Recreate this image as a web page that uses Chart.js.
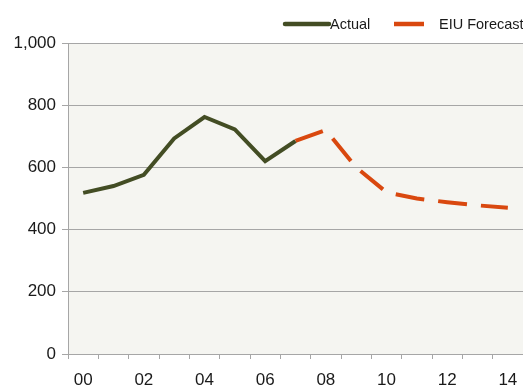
<!DOCTYPE html>
<html>
<head>
<meta charset="utf-8">
<script src="https://cdn.jsdelivr.net/npm/chart.js@4"></script>
<style>
  html, body { margin: 0; padding: 0; background: #ffffff; }
  #wrap { width: 523px; height: 389px; }
</style>
</head>
<body>
<div id="wrap"><canvas id="eiuChart"></canvas></div>
<script>
// years shown as two-digit labels
const years = ['00', '01', '02', '03', '04', '05', '06', '07', '08', '09', '10', '11', '12', '13', '14'];
const actual = [518, 540, 576, 693, 762, 722, 620, 685, null, null, null, null, null, null, null];
const forecast = [null, null, null, null, null, null, null, 685, 720, 600, 520, 500, 488, 478, 470];
const yTicks = [0, 200, 400, 600, 800, 1000];

const olive = '#434d24';
const orange = '#d9480f';

// shaded plot area
const plotBg = {
    id: 'plotBg',
    beforeDraw(chart) {
        const { ctx, chartArea: a } = chart;
        ctx.save();
        ctx.fillStyle = '#f5f5f1';
        ctx.fillRect(a.left, a.top, a.right - a.left, a.bottom - a.top);
        ctx.restore();
    }
};

// legend drawn by hand so the gaps match the original
const lineLegend = {
    id: 'lineLegend',
    afterDraw(chart) {
        const ctx = chart.ctx;
        const ds = chart.data.datasets;
        const items = [
            { x0: 285, x1: 329, tx: 330, cap: 'round', ds: ds[0] },
            { x0: 394, x1: 424, tx: 439, cap: 'butt', ds: ds[1] }
        ];
        ctx.save();
        ctx.font = '14.5px "Liberation Sans", Arial, sans-serif';
        ctx.textBaseline = 'middle';
        items.forEach(it => {
            ctx.strokeStyle = it.ds.borderColor;
            ctx.lineWidth = 4.5;
            ctx.lineCap = it.cap;
            ctx.beginPath();
            ctx.moveTo(it.x0, 24);
            ctx.lineTo(it.x1, 24);
            ctx.stroke();
            ctx.fillStyle = '#1a1a1a';
            ctx.fillText(it.ds.label, it.tx, 24.5);
        });
        ctx.restore();
    }
};

const ctx = document.getElementById('eiuChart').getContext('2d');
let eiuChart = new Chart(ctx, {
    type: 'line',
    data: {
        labels: years,
        datasets: [{
            label: 'Actual',
            data: actual,
            borderColor: olive,
            borderWidth: 4,
            pointRadius: 0,
            tension: 0,
            borderJoinStyle: 'miter'
        }, {
            label: 'EIU Forecast',
            data: forecast,
            borderColor: orange,
            borderWidth: 4,
            borderDash: [29, 14],
            pointRadius: 0,
            tension: 0
        }]
    },
    options: {
        responsive: true,
        maintainAspectRatio: false,
        animation: false,
        layout: { padding: { top: 43, right: 0, bottom: 0, left: 0 } },
        plugins: {
            legend: { display: false },
            tooltip: { enabled: false }
        },
        scales: {
            x: {
                offset: true,
                grid: {
                    offset: true,
                    drawOnChartArea: false,
                    color: '#a6a6a6',
                    tickLength: 5
                },
                border: { color: '#a6a6a6' },
                ticks: {
                    autoSkip: false,
                    maxRotation: 0,
                    padding: 11,
                    color: '#1a1a1a',
                    font: { size: 17, family: '"Liberation Sans", Arial, sans-serif' },
                    callback: function (v, i) { return i % 2 === 0 ? years[i] : ''; }
                },
                afterFit(scale) {
                    scale.height = 35;
                    scale.paddingLeft = 0;
                    scale.paddingRight = 0;
                }
            },
            y: {
                min: yTicks[0],
                max: yTicks[yTicks.length - 1],
                afterBuildTicks(scale) { scale.ticks = yTicks.map(v => ({ value: v })); },
                grid: { color: '#a6a6a6', tickLength: 6 },
                border: { color: '#a6a6a6' },
                ticks: {
                    padding: 6,
                    color: '#1a1a1a',
                    font: { size: 17, family: '"Liberation Sans", Arial, sans-serif' },
                    callback: v => v.toLocaleString('en-US')
                },
                afterFit(scale) { scale.width = 68; }
            }
        }
    },
    plugins: [plotBg, lineLegend]
});
</script>
</body>
</html>
